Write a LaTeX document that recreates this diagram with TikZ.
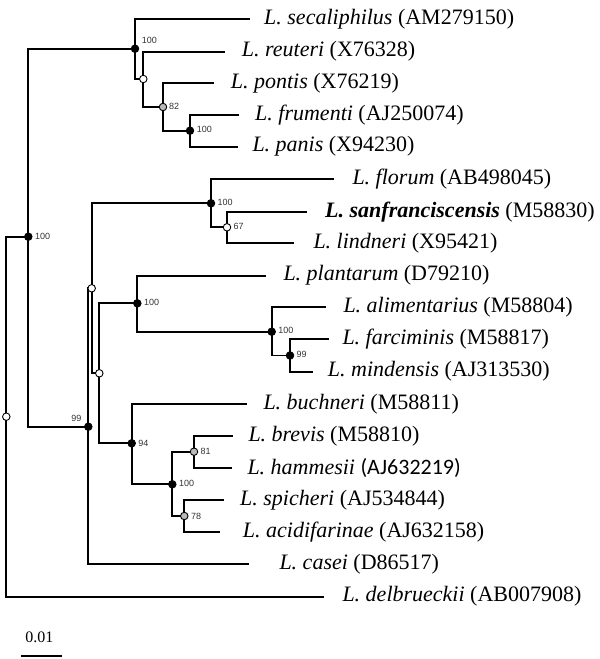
\documentclass[tikz,border=0pt]{standalone}
\usepackage{fontspec}
\setmainfont{Liberation Serif}
\newfontfamily\bsfont{Liberation Sans}
\newfontfamily\calfont{Carlito}
\usetikzlibrary{backgrounds}
\begin{document}
\begin{tikzpicture}[x=1pt,y=-1pt,
  br/.style={line width=1.8pt,line cap=rect},
  bnode/.style={circle,draw=black,line width=0.9pt,minimum size=7.5pt,inner sep=0pt},
  fullnode/.style={bnode,fill=black},
  greynode/.style={bnode,fill=gray!55},
  opennode/.style={bnode,fill=white},
  tax/.style={anchor=west,inner sep=0pt,font=\fontsize{22}{24}\selectfont},
  bs/.style={inner sep=0pt,font=\bsfont\fontsize{9}{10}\selectfont,text=black!80}]
\useasboundingbox (0,0) rectangle (600,659);
% internal nodes
\node[fullnode] (nA) at (135,48.7) {};
\node[opennode] (nB) at (143.3,79) {};
\node[greynode] (nC) at (163,107) {};
\node[fullnode] (nD) at (190,130.7) {};
\node[fullnode] (nE) at (211,203.3) {};
\node[opennode] (nF) at (227,227.3) {};
\node[fullnode] (nG) at (28.3,236.7) {};
\node[opennode] (nH) at (91.7,288.3) {};
\node[opennode] (nI) at (99.3,373.3) {};
\node[fullnode] (nJ) at (137.3,303.3) {};
\node[fullnode] (nK) at (271.7,331.7) {};
\node[fullnode] (nL) at (290,355.5) {};
\node[fullnode] (nM) at (88.3,426.7) {};
\node[fullnode] (nN) at (131.7,443.3) {};
\node[fullnode] (nO) at (172.3,484.3) {};
\node[greynode] (nP) at (194,451.7) {};
\node[greynode] (nQ) at (184.3,516) {};
\node[opennode] (nR) at (6.3,416.7) {};
% leaf ends
\coordinate (lsec) at (249,19);
\coordinate (lreu) at (224,51.7);
\coordinate (lpon) at (213,83);
\coordinate (lfru) at (238,115.3);
\coordinate (lpan) at (237,146.7);
\coordinate (lflo) at (333.3,179);
\coordinate (lsan) at (306,211.7);
\coordinate (llin) at (293.3,243.3);
\coordinate (lpla) at (265,275.7);
\coordinate (lali) at (325,307.3);
\coordinate (lfar) at (327.7,339);
\coordinate (lmin) at (312.3,371.7);
\coordinate (lbuc) at (245.7,404);
\coordinate (lbre) at (232.3,436);
\coordinate (lham) at (230.7,468.3);
\coordinate (lspi) at (222.7,500);
\coordinate (laci) at (219,532.3);
\coordinate (lcas) at (248.3,564.3);
\coordinate (ldel) at (323.3,596.7);
% taxon labels
\node[tax] (tsec) at (264,19) {\textit{L. secaliphilus} (AM279150)};
\node[tax] (treu) at (241.7,51.7) {\textit{L. reuteri} (X76328)};
\node[tax] (tpon) at (230.7,83) {\textit{L. pontis} (X76219)};
\node[tax] (tfru) at (255,115.3) {\textit{L. frumenti} (AJ250074)};
\node[tax] (tpan) at (252.3,146.7) {\textit{L. panis} (X94230)};
\node[tax] (tflo) at (352.3,179) {\textit{L. florum} (AB498045)};
\node[tax] (tsan) at (325,211.7) {\textbf{\textit{L. sanfranciscensis}} (M58830)};
\node[tax] (tlin) at (313.3,243.3) {\textit{L. lindneri} (X95421)};
\node[tax] (tpla) at (283.3,275.7) {\textit{L. plantarum} (D79210)};
\node[tax] (tali) at (343.3,307.3) {\textit{L. alimentarius} (M58804)};
\node[tax] (tfar) at (342.3,339) {\textit{L. farciminis} (M58817)};
\node[tax] (tmin) at (327.7,371.7) {\textit{L. mindensis} (AJ313530)};
\node[tax] (tbuc) at (263.3,404) {\textit{L. buchneri} (M58811)};
\node[tax] (tbre) at (248.3,436) {\textit{L. brevis} (M58810)};
\node[tax] (tham) at (247.3,468.3) {\textit{L. hammesii} {\calfont (AJ632219)}};
\node[tax] (tspi) at (240,500) {\textit{L. spicheri} (AJ534844)};
\node[tax] (taci) at (242.7,532.3) {\textit{L. acidifarinae} (AJ632158)};
\node[tax] (tcas) at (279.3,564.3) {\textit{L. casei} (D86517)};
\node[tax] (tdel) at (342.3,596.7) {\textit{L. delbrueckii} (AB007908)};
% bootstrap values
\node[bs,anchor=west] (bA) at (141.7,40.3) {100};
\node[bs,anchor=west] (bC) at (169,106.3) {82};
\node[bs,anchor=west] (bD) at (196.7,129.7) {100};
\node[bs,anchor=west] (bE) at (217.5,202.3) {100};
\node[bs,anchor=west] (bF) at (233.5,226.3) {67};
\node[bs,anchor=west] (bG) at (34.8,236) {100};
\node[bs,anchor=west] (bJ) at (143.8,302.3) {100};
\node[bs,anchor=west] (bK) at (278.2,330.7) {100};
\node[bs,anchor=west] (bL) at (296.5,354.5) {99};
\node[bs,anchor=east] (bM) at (81.7,418.3) {99};
\node[bs,anchor=west] (bN) at (138.2,443.3) {94};
\node[bs,anchor=west] (bO) at (178.8,483.3) {100};
\node[bs,anchor=west] (bP) at (200.5,451.7) {81};
\node[bs,anchor=west] (bQ) at (190.8,516) {78};
% scale bar
\coordinate (sb1) at (21,655.7);
\coordinate (sb2) at (62.3,655.7);
\node[inner sep=0pt,font=\fontsize{16}{18}\selectfont] (sbl) at (39.3,637.7) {0.01};
\begin{scope}[on background layer]
\draw[br] (nR.center) |- (nG.center);
\draw[br] (nR.center) |- (ldel);
\draw[br] (nG.center) |- (nA.center);
\draw[br] (nG.center) |- (nM.center);
\draw[br] (nA.center) |- (lsec);
\draw[br] (nA.center) |- (nB.center);
\draw[br] (nB.center) |- (lreu);
\draw[br] (nB.center) |- (nC.center);
\draw[br] (nC.center) |- (lpon);
\draw[br] (nC.center) |- (nD.center);
\draw[br] (nD.center) |- (lfru);
\draw[br] (nD.center) |- (lpan);
\draw[br] (nM.center) |- (nH.center);
\draw[br] (nM.center) |- (lcas);
\draw[br] (nH.center) |- (nE.center);
\draw[br] (nH.center) |- (nI.center);
\draw[br] (nE.center) |- (lflo);
\draw[br] (nE.center) |- (nF.center);
\draw[br] (nF.center) |- (lsan);
\draw[br] (nF.center) |- (llin);
\draw[br] (nI.center) |- (nJ.center);
\draw[br] (nI.center) |- (nN.center);
\draw[br] (nJ.center) |- (lpla);
\draw[br] (nJ.center) |- (nK.center);
\draw[br] (nK.center) |- (lali);
\draw[br] (nK.center) |- (nL.center);
\draw[br] (nL.center) |- (lfar);
\draw[br] (nL.center) |- (lmin);
\draw[br] (nN.center) |- (lbuc);
\draw[br] (nN.center) |- (nO.center);
\draw[br] (nO.center) |- (nP.center);
\draw[br] (nO.center) |- (nQ.center);
\draw[br] (nP.center) |- (lbre);
\draw[br] (nP.center) |- (lham);
\draw[br] (nQ.center) |- (lspi);
\draw[br] (nQ.center) |- (laci);
\draw[br,line cap=butt] (sb1) -- (sb2);
\end{scope}
\end{tikzpicture}
\end{document}
